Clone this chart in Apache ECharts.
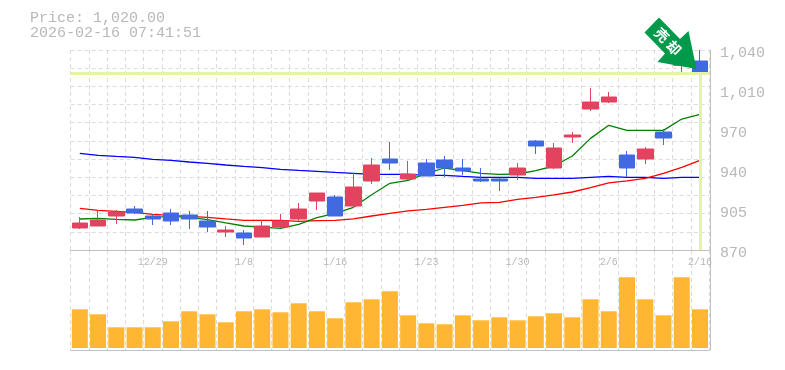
<!DOCTYPE html>
<html>
<head>
<meta charset="utf-8">
<style>html,body{margin:0;padding:0;background:#fff}#c{width:785px;height:370px}</style>
<script src="https://cdn.jsdelivr.net/npm/echarts@6/dist/echarts.min.js"></script>
</head>
<body>
<div id="c"></div>
<script>
const dates = ['12/23','12/24','12/25','12/26','12/29','12/30','1/5','1/6','1/7','1/8','1/9','1/13','1/14','1/15','1/16','1/19','1/20','1/21','1/22','1/23','1/26','1/27','1/28','1/29','1/30','2/2','2/3','2/4','2/5','2/6','2/9','2/10','2/12','2/13','2/16'];
// [open, close, low, high]
const candles = [
[888.7,892.95,887.85,898.05],[890.4,895.5,890.4,904],[898.9,902.3,892.1,904],[904.85,901.45,900.6,907.4],
[898.9,896.35,891.25,900.6],[901.45,894.65,891.25,904.85],[899.75,896.35,887.85,903.15],[894.65,889.55,885.3,903.15],
[885.3,887,881.05,890.4],[884.45,880.2,874.25,887],[881.05,890.4,881.05,895.5],[889.55,894.65,888.7,900.6],
[896.35,904.85,894.65,909.95],[911.65,918.45,904,918.45],[915.05,898.9,898.9,916.75],[907.4,923.55,905.7,935.45],
[928.65,942.25,926.1,948.2],[947.35,943.95,938,961.8],[930.35,934.6,929.5,945.65],[943.95,932.9,932.9,947.35],
[946.5,939.7,932.05,949.9],[939.7,937.15,933.75,947.35],[930.35,928.65,927.8,939.7],[930.35,928.65,920.15,931.2],
[933.75,939.7,929.5,943.95],[962.65,958.4,951.6,963.5],[939.7,956.7,938.85,960.95],[966.05,967.75,960.95,970.3],
[989.85,995.8,988.15,1007.7],[995.8,1000.05,994.95,1004.3],[950.75,939.7,932.05,954.15],[947.35,955.85,943.1,957.55],
[970.3,965.2,959.25,972.85],[1027,1038,1021,1040],[1030.65,1020,1013.6,1040]];
const maGreen = [896.35,896.9,896.1,895.5,897.8,898.6,897.8,895.8,893,890.4,889.5,888.4,891.8,897.5,901.2,906.3,917,926.7,929.2,935.2,939.7,937.4,935.2,934.3,934.6,937.4,941.4,949.9,964.9,976,971.7,971.7,971.7,981.3,985.3];
const maRed = [905.4,903.7,902.9,902,900.3,899.5,898.6,897.8,896.4,895.2,895.2,895.2,894.4,894.9,895.2,896.4,898.9,901.2,903.2,904.6,906.3,908,910,910.5,913.1,914.8,916.8,919.3,923,927,928.7,930.9,935.2,940.3,946.2];
const maBlue = [952.2,950.5,949.6,948.8,947.1,946.2,944.8,943.7,942.25,941.1,940,938.6,937.7,936.9,936,935.2,934.3,934.3,934.3,933.5,933.5,932.6,931.8,931.8,931.8,930.9,930.9,930.9,931.8,932.6,931.8,931.8,930.9,931.8,931.8];
const volumes = [38.7,33.7,20.7,20.7,20.7,26.7,36.7,33.7,25.7,36.7,38.7,35.7,44.7,36.7,29.7,45.7,48.7,56.7,32.7,24.7,23.7,32.7,27.7,30.7,27.7,31.7,34.7,30.7,48.7,36.7,70.7,48.7,32.7,70.7,38.7];
const priceTicks = ['870','905','940','970','1,010','1,040'];
const lastPrice = 1020, lastIndex = 34;
const titleText = 'Price: 1,020.00\n2026-02-16 07:41:51';

const mono = '"Liberation Mono", monospace';
const gray = '#c0c0c0', dash = {color:'#dcdcdc', type:[4,3], width:1};
const txt = '#b8b8b8';
const hl = '#e3f5a3';
const chart = echarts.init(document.getElementById('c'), null, {renderer:'canvas'});
const ma = (data, color) => ({type:'line', data, xAxisIndex:0, yAxisIndex:0, showSymbol:false, symbol:'none', silent:true,
  lineStyle:{color, width:1.3}, z:3});
chart.setOption({
  animation:false,
  backgroundColor:'#fff',
  title:{text:titleText, left:30, top:11, padding:0, textStyle:{fontFamily:mono, fontSize:15, fontWeight:'normal', color:txt, lineHeight:15}},
  grid:[{left:70.7, top:50, width:638.4, height:200},{left:70.7, top:250, width:638.4, height:100}],
  xAxis:[
    {type:'category', gridIndex:0, data:dates, boundaryGap:true,
     axisLine:{show:true, onZero:false, lineStyle:{color:gray, width:1}}, axisTick:{show:false},
     splitLine:{show:true, interval:0, lineStyle:dash},
     axisLabel:{interval:(i)=>i%5===4, color:txt, fontFamily:mono, fontSize:10, margin:7}},
    {type:'category', gridIndex:1, data:dates, boundaryGap:true,
     axisLine:{show:true, onZero:false, lineStyle:{color:gray, width:1}}, axisTick:{show:false},
     splitLine:{show:true, interval:0, lineStyle:dash}, axisLabel:{show:false}}
  ],
  yAxis:[
    {type:'value', gridIndex:0, min:870, max:1040, show:false},
    {type:'value', gridIndex:0, min:0, max:11, interval:1, position:'left',
     axisLine:{show:false}, axisTick:{show:false}, axisLabel:{show:false}, splitLine:{show:true, lineStyle:dash}},
    {type:'value', gridIndex:0, min:0, max:5, interval:1, position:'right', offset:1,
     axisLine:{show:true, lineStyle:{color:gray, width:1}}, axisTick:{show:false}, splitLine:{show:false},
     axisLabel:{formatter:(v)=>priceTicks[v], color:txt, fontFamily:mono, fontSize:15, margin:10, verticalAlign:'top', lineHeight:6}},
    {type:'value', gridIndex:1, min:-2, max:98, position:'right', offset:1,
     axisLine:{show:true, lineStyle:{color:gray, width:1}}, axisTick:{show:false}, axisLabel:{show:false}, splitLine:{show:false}}
  ],
  series:[
    {type:'line', data:[], xAxisIndex:0, yAxisIndex:0, z:2, silent:true,
     markLine:{silent:true, symbol:'none', animation:false, label:{show:false},
       lineStyle:{color:hl, width:3, type:'solid'},
       data:[{yAxis:lastPrice},[{coord:[lastIndex,lastPrice]},{coord:[lastIndex,870]}]]}},
    ma(maBlue,'#0000ff'), ma(maRed,'#ff0000'), ma(maGreen,'#008000'),
    {type:'candlestick', data:candles, xAxisIndex:0, yAxisIndex:0, barWidth:16, z:4, silent:true,
     itemStyle:{color:'#e2435f', color0:'#4169e1', borderColor:'#e2435f', borderColor0:'#4169e1', borderWidth:1}},
    {type:'bar', data:volumes, xAxisIndex:1, yAxisIndex:3, barWidth:16, silent:true, itemStyle:{color:'#ffb733'}}
  ],
  graphic:[
    {type:'polygon', z:100, silent:true, shape:{points:[[659,17.5],[644.5,32.5],[665,53.5],[657.5,62],[696.5,69],[688.5,31],[680,39]]},
     style:{fill:'#029a4a'}},
    {type:'text', z:101, silent:true, x:662, y:35, rotation:-Math.PI/4,
     style:{text:'売', fill:'#fff', font:'bold 14px "Noto Sans CJK JP"', align:'center', verticalAlign:'middle'}},
    {type:'text', z:101, silent:true, x:674, y:48, rotation:-Math.PI/4,
     style:{text:'却', fill:'#fff', font:'bold 14px "Noto Sans CJK JP"', align:'center', verticalAlign:'middle'}}
  ]
});
</script>
</body>
</html>
